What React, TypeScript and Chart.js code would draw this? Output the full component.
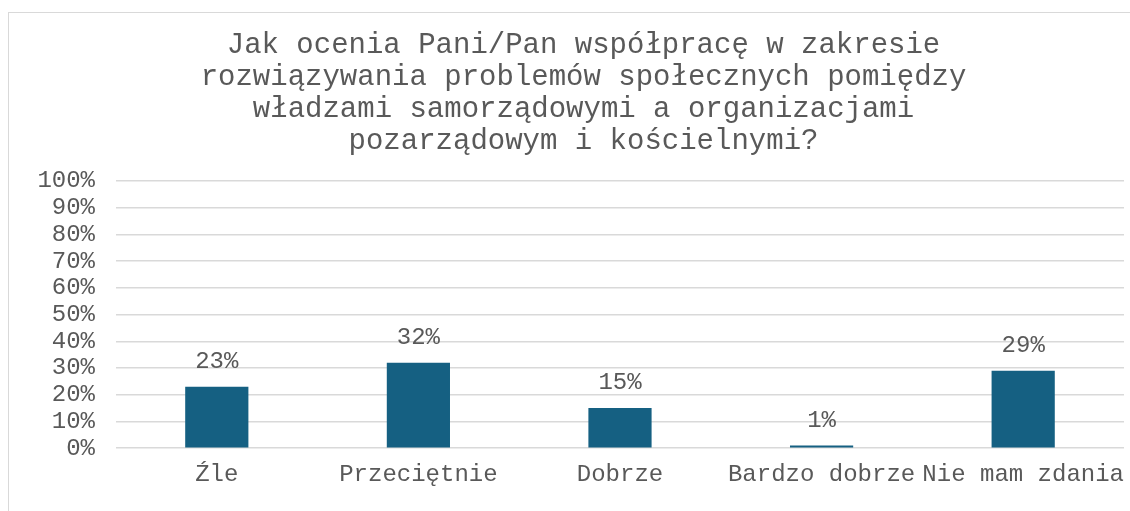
import React, { useEffect, useRef } from "react";
import { Chart, registerables } from "chart.js";

Chart.register(...registerables);

const titleLines = [
  "Jak ocenia Pani/Pan współpracę w zakresie",
  "rozwiązywania problemów społecznych pomiędzy",
  "władzami samorządowymi a organizacjami",
  "pozarządowym i kościelnymi?",
];
const categories = ["Źle", "Przeciętnie", "Dobrze", "Bardzo dobrze", "Nie mam zdania"];
const values = [23, 32, 15, 1, 29];

const FONT = "'Liberation Mono', 'Courier New', monospace";
const TEXT = "#595959";
const BAR = "#156082";
const GRID = "#d9d9d9";

const dataLabels = {
  id: "dataLabels",
  afterLayout(chart: any) {
    const t = chart.titleBlock;
    if (t) {
      t.left -= 6;
    }
  },
  afterDatasetsDraw(chart: any) {
    const ctx = chart.ctx;
    const meta = chart.getDatasetMeta(0);
    ctx.save();
    ctx.font = `24px ${FONT}`;
    ctx.fillStyle = TEXT;
    ctx.textAlign = "center";
    ctx.textBaseline = "alphabetic";
    meta.data.forEach((bar: any, i: number) => {
      const v = chart.data.datasets[0].data[i];
      ctx.fillText(`${v}%`, bar.x, bar.y - 19);
    });
    ctx.restore();
  },
};

export default function App() {
  const ref = useRef<HTMLCanvasElement | null>(null);
  useEffect(() => {
    if (!ref.current) return;
    const chart = new Chart(ref.current, {
      type: "bar",
      data: {
        labels: categories,
        datasets: [
          {
            data: values,
            backgroundColor: BAR,
            borderWidth: 0,
            categoryPercentage: 1,
            barPercentage: 0.3135,
          },
        ],
      },
      options: {
        animation: false,
        responsive: true,
        maintainAspectRatio: false,
        layout: { padding: { top: 12, left: 37, right: 0, bottom: 10 } },
        plugins: {
          legend: { display: false },
          tooltip: { enabled: false },
          title: {
            display: true,
            text: titleLines,
            color: TEXT,
            font: { family: FONT, size: 29, weight: "normal", lineHeight: 32 / 29 },
            padding: { top: 17, bottom: 24 },
          },
        },
        scales: {
          x: {
            grid: { display: false, drawTicks: false },
            border: { display: false },
            ticks: {
              color: TEXT,
              font: { family: FONT, size: 24 },
              padding: 12,
              autoSkip: false,
              maxRotation: 0,
              minRotation: 0,
            },
          },
          y: {
            min: 0,
            max: 100,
            grid: { color: GRID, lineWidth: 1.5, drawTicks: false },
            border: { display: false },
            afterFit: (scale: any) => {
              scale.width = 79;
            },
            ticks: {
              stepSize: 10,
              autoSkip: false,
              color: TEXT,
              font: { family: FONT, size: 24 },
              padding: 21,
              callback: (v: any) => `${v}%`,
            },
          },
        },
      },
      plugins: [dataLabels],
    });
    return () => chart.destroy();
  }, []);

  return (
    <>
      <div
        style={{
          position: "fixed",
          left: 8,
          top: 12,
          width: 1200,
          height: 600,
          border: "1px solid #d9d9d9",
          boxSizing: "border-box",
        }}
      />
      <div style={{ position: "fixed", left: 0, top: 0, width: 1136, height: 511 }}>
        <canvas ref={ref} />
      </div>
    </>
  );
}
